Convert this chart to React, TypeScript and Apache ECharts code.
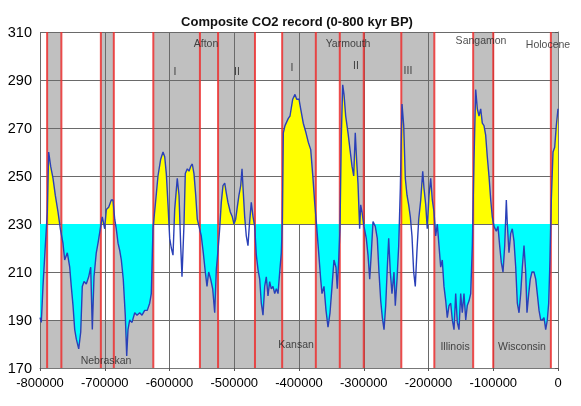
import React, { useEffect, useRef } from "react";
import * as echarts from "echarts";

// ---- data (ages in kyr BP, negative = before present; CO2 in ppmv) ----
const ageKyr = [
  -800.0, -798.0, -795.4, -791.8, -788.7, -786.6, -783.5, -779.9, -776.4, -772.2,
  -768.6, -764.5, -761.9, -757.8, -754.1, -751.7, -749.0, -746.4, -743.9, -740.2,
  -737.1, -734.7, -732.0, -728.5, -724.8, -721.7, -719.2, -716.6, -713.1, -710.4,
  -706.9, -703.8, -700.1, -697.6, -693.9, -689.9, -687.3, -684.6, -682.2, -679.5,
  -676.9, -674.4, -671.4, -668.3, -666.1, -664.1, -661.5, -657.9, -653.7, -650.2,
  -646.0, -642.5, -638.3, -634.3, -630.6, -628.1, -625.5, -621.9, -617.8, -613.6,
  -610.0, -607.4, -604.9, -602.3, -599.7, -597.2, -594.6, -592.0, -588.0, -585.3,
  -582.7, -580.7, -577.6, -575.6, -572.5, -569.9, -567.3, -564.8, -562.2, -559.5,
  -557.1, -554.4, -550.9, -547.8, -544.7, -542.1, -539.5, -536.4, -533.3, -530.2,
  -527.7, -525.1, -522.5, -520.0, -517.4, -514.7, -512.3, -509.7, -506.1, -503.0,
  -500.4, -497.8, -495.3, -492.7, -490.0, -488.0, -486.0, -483.9, -481.4, -478.8,
  -476.8, -473.7, -471.0, -468.4, -465.9, -463.3, -460.7, -458.2, -455.6, -453.0,
  -450.5, -447.9, -445.3, -442.8, -440.2, -437.5, -435.0, -432.4, -429.8, -427.3,
  -425.8, -424.2, -421.6, -416.5, -413.9, -409.7, -406.2, -403.6, -400.0, -397.4,
  -393.4, -389.2, -385.6, -381.9, -378.4, -375.8, -373.3, -369.6, -366.5, -364.5,
  -361.4, -358.3, -355.2, -352.1, -349.0, -346.0, -342.9, -340.9, -338.7, -336.7,
  -334.7, -332.5, -330.5, -327.9, -324.3, -321.2, -318.1, -315.5, -313.1, -310.9,
  -308.9, -306.3, -304.7, -302.7, -299.6, -296.1, -293.4, -290.8, -288.3, -285.7,
  -282.2, -279.1, -276.5, -273.8, -271.3, -268.7, -266.1, -263.6, -261.5, -259.0,
  -256.4, -253.3, -251.3, -248.6, -246.0, -243.5, -240.9, -238.3, -235.8, -233.2,
  -230.6, -228.1, -225.5, -222.9, -220.4, -217.8, -215.1, -212.0, -208.9, -207.0,
  -204.3, -201.9, -199.2, -196.6, -194.1, -191.5, -188.9, -186.4, -183.8, -181.2,
  -178.7, -176.1, -173.4, -171.0, -168.3, -165.7, -163.2, -160.6, -158.0, -155.5,
  -152.9, -150.3, -147.8, -145.2, -142.5, -140.1, -137.4, -134.8, -132.3, -129.7,
  -127.1, -124.6, -122.0, -119.4, -116.9, -114.3, -111.7, -109.2, -106.6, -103.9,
  -101.5, -98.8, -95.3, -92.7, -90.1, -87.6, -84.9, -82.3, -79.8, -78.3,
  -75.7, -73.1, -70.6, -68.0, -65.3, -62.8, -60.2, -57.6, -55.1, -52.5,
  -49.9, -47.9, -45.2, -42.8, -40.2, -37.1, -34.4, -32.0, -29.3, -26.7,
  -24.2, -21.6, -19.0, -16.5, -14.4, -12.4, -10.3, -7.7, -5.1, -2.6,
  0.0,
];

const co2 = [
  191, 189, 204, 221, 235, 260, 254, 249, 242, 235,
  228, 222, 215, 218, 212, 204, 196, 186, 182, 178,
  185, 204, 206, 205, 208, 212, 186, 208, 218, 222,
  228, 233, 228, 236, 237, 240, 240, 232, 228, 222,
  219, 215, 207, 192, 175, 186, 190, 189, 193, 192,
  193, 192, 194, 194, 197, 201, 228, 238, 250, 257,
  260, 258, 251, 238, 224, 220, 217, 236, 249, 242,
  221, 208, 230, 251, 253, 252, 254, 255, 251, 242,
  232, 229, 225, 218, 210, 204, 210, 207, 203, 193,
  211, 219, 228, 239, 246, 247, 243, 239, 235, 233,
  230, 232, 237, 242, 246, 253, 243, 233, 225, 221,
  229, 239, 233, 229, 217, 211, 207, 197, 192, 204,
  208, 200, 206, 203, 204, 201, 203, 201, 210, 218,
  230, 268, 271, 274, 275, 282, 284, 282, 282, 278,
  272, 268, 264, 261, 249, 239, 231, 218, 207, 201,
  204, 194, 187, 193, 204, 215, 212, 203, 215, 228,
  266, 288, 284, 275, 268, 261, 254, 250, 268, 256,
  247, 228, 238, 235, 229, 224, 217, 207, 218, 231,
  229, 224, 210, 198, 191, 186, 196, 212, 224, 210,
  201, 210, 196, 207, 221, 245, 280, 271, 249, 242,
  238, 233, 225, 210, 204, 219, 232, 240, 252, 245,
  238, 228, 242, 249, 240, 235, 225, 230, 221, 212,
  215, 204, 198, 191, 196, 197, 190, 186, 201, 189,
  186, 201, 193, 201, 190, 196, 198, 201, 221, 257,
  286, 278, 275, 278, 272, 271, 267, 258, 250, 240,
  233, 229, 227, 229, 221, 214, 210, 221, 240, 230,
  218, 226, 228, 223, 212, 197, 193, 201, 212, 221,
  210, 193, 201, 207, 210, 210, 207, 201, 194, 190,
  190, 191, 186, 190, 197, 215, 240, 260, 262, 271,
  278,
];

// stage boundaries (red lines), kyr
const boundaryKyr = [-789, -767, -706, -686, -625, -553, -525, -468, -426, -374, -337, -300, -242, -191, -131, -100, -11];

// shaded bands: [startKyr, endKyr]
const nameBandsTop = [[-789, -767], [-706, -686], [-625, -468], [-426, -191], [-131, -100], [-11, 0]];
const interglacialBands = [[-789, -767], [-706, -686], [-625, -553], [-525, -468], [-426, -374], [-337, -300], [-242, -191], [-131, -100], [-11, 0]];
const glacialBands = [[-800, -789], [-767, -706], [-686, -625], [-553, -525], [-468, -426], [-374, -337], [-300, -242], [-191, -131], [-100, -11]];
const nameBandsBottom = [[-800, -625], [-553, -242], [-191, -131], [-100, -11]];

// band vertical extents (ppmv)
const topRange = [290, 310];
const interRange = [230, 290];
const glacialRange = [190, 230];
const bottomRange = [170, 190];

const baseline = 230;

// annotation texts and anchors
const labelNames = ["Afton", "I", "II", "Yarmouth", "I", "II", "III", "Sangamon", "Holocene", "Nebraskan", "Kansan", "Illinois", "Wisconsin"];
const labelAgeKyr = [-543.6, -591.5, -495.8, -324.3, -410.8, -312.0, -231.7, -118.9, -15.4, -698.0, -404.6, -159.0, -55.6];
const labelCo2 = [305.4, 293.8, 293.8, 305.4, 295.4, 296.3, 294.2, 306.7, 305.0, 173.3, 180.0, 179.2, 179.2];

const xMin = -800000;
const xMax = 0;
const yMin = 170;
const yMax = 310;

const FONT = "'Liberation Sans', Arial, sans-serif";

// linear interpolation of the record at x (used only to clip fills at band edges)
function valueAt(xs: number[], ys: number[], x: number) {
  if (x <= xs[0]) return ys[0];
  for (let i = 1; i < xs.length; i++) {
    if (x <= xs[i]) {
      const t = (x - xs[i - 1]) / (xs[i] - xs[i - 1]);
      return ys[i - 1] + t * (ys[i] - ys[i - 1]);
    }
  }
  return ys[ys.length - 1];
}

// build a fill polyline, clipped to the given bands, on one side of the baseline
function bandFill(xs: number[], ys: number[], bands: number[][], base: number, above: boolean) {
  const out: any[] = [];
  bands.forEach(([ka, kb]) => {
    const a = ka * 1000;
    const b = kb * 1000;
    const px: number[] = [a];
    const py: number[] = [valueAt(xs, ys, a)];
    for (let i = 0; i < xs.length; i++) {
      if (xs[i] > a && xs[i] < b) {
        px.push(xs[i]);
        py.push(ys[i]);
      }
    }
    px.push(b);
    py.push(valueAt(xs, ys, b));
    for (let i = 0; i < px.length; i++) {
      if (i > 0) {
        const y0 = py[i - 1];
        const y1 = py[i];
        if ((y0 - base) * (y1 - base) < 0) {
          const t = (base - y0) / (y1 - y0);
          out.push([px[i - 1] + t * (px[i] - px[i - 1]), base]);
        }
      }
      out.push([px[i], above ? Math.max(py[i], base) : Math.min(py[i], base)]);
    }
    out.push([b, "-"]);
  });
  return out;
}

export default function App() {
  const ref = useRef<HTMLDivElement>(null);

  useEffect(() => {
    if (!ref.current) return;
    const chart = echarts.init(ref.current, undefined, { renderer: "svg" });

    const years = ageKyr.map((k) => k * 1000);
    const line = years.map((x, i) => [x, co2[i]]);
    const upper = bandFill(years, co2, interglacialBands, baseline, true);
    const lower = bandFill(years, co2, glacialBands, baseline, false);

    const bandRows: number[][] = [];
    const addBands = (list: number[][], range: number[]) =>
      list.forEach(([a, b]) => bandRows.push([a * 1000, b * 1000, range[0], range[1]]));
    addBands(nameBandsTop, topRange);
    addBands(interglacialBands, interRange);
    addBands(glacialBands, glacialRange);
    addBands(nameBandsBottom, bottomRange);

    const labelData = labelNames.map((n, i) => ({ name: n, value: [labelAgeKyr[i] * 1000, labelCo2[i]] }));

    chart.setOption({
      animation: false,
      title: {
        text: "Composite CO2 record (0-800 kyr BP)",
        left: 292,
        textAlign: "center",
        top: 10,
        textStyle: { fontFamily: FONT, fontSize: 13, fontWeight: "bold", color: "#111" },
      },
      grid: { left: 40, right: 23, top: 32, bottom: 38, containLabel: false },
      xAxis: {
        type: "value",
        min: xMin,
        max: xMax,
        interval: 100000,
        z: 2,
        axisLine: { show: true, lineStyle: { color: "#777", width: 1 } },
        axisTick: { show: true, length: 3, lineStyle: { color: "#555" } },
        splitLine: { show: true, lineStyle: { color: "#6a6a6a", width: 1 } },
        axisLabel: {
          margin: 8,
          fontFamily: FONT,
          fontSize: 13,
          color: "#000",
          formatter: (v: number) => String(v),
        },
      },
      yAxis: {
        type: "value",
        min: yMin,
        max: yMax,
        interval: 20,
        z: 2,
        axisLine: { show: true, lineStyle: { color: "#777", width: 1 } },
        axisTick: { show: true, length: 3, lineStyle: { color: "#555" } },
        splitLine: { show: true, lineStyle: { color: "#6a6a6a", width: 1 } },
        axisLabel: { margin: 8, fontFamily: FONT, fontSize: 14.5, color: "#000" },
      },
      series: [
        {
          type: "custom",
          name: "bands",
          z: 1,
          silent: true,
          data: bandRows,
          encode: { x: [0, 1], y: [2, 3] },
          renderItem: (params: any, api: any) => {
            const p0 = api.coord([api.value(0), api.value(3)]);
            const p1 = api.coord([api.value(1), api.value(2)]);
            return {
              type: "rect",
              shape: { x: p0[0], y: p0[1], width: p1[0] - p0[0], height: p1[1] - p0[1] },
              style: { fill: "#c0c0c0" },
            };
          },
        },
        {
          type: "line",
          name: "above",
          z: 3,
          silent: true,
          data: upper,
          connectNulls: false,
          symbol: "none",
          lineStyle: { width: 0, opacity: 0 },
          areaStyle: { color: "#ffff00", opacity: 1, origin: baseline },
        },
        {
          type: "line",
          name: "below",
          z: 3,
          silent: true,
          data: lower,
          connectNulls: false,
          symbol: "none",
          lineStyle: { width: 0, opacity: 0 },
          areaStyle: { color: "#00ffff", opacity: 1, origin: baseline },
        },
        {
          type: "custom",
          name: "boundaries",
          z: 4,
          silent: true,
          data: boundaryKyr.map((k) => [k * 1000, yMin]),
          renderItem: (params: any, api: any) => {
            const a = api.coord([api.value(0), yMax]);
            const b = api.coord([api.value(0), yMin]);
            return {
              type: "line",
              shape: { x1: a[0], y1: a[1], x2: b[0], y2: b[1] },
              style: { stroke: "#ec2f2f", lineWidth: 2, opacity: 0.85 },
            };
          },
        },
        {
          type: "line",
          name: "CO2",
          z: 5,
          silent: true,
          data: line,
          symbol: "none",
          lineStyle: { color: "#2a40b8", width: 1.4 },
        },
        {
          type: "scatter",
          name: "labels",
          z: 6,
          silent: true,
          symbolSize: 0,
          data: labelData,
          label: {
            show: true,
            position: "inside",
            formatter: "{b}",
            fontFamily: FONT,
            fontSize: 10.5,
            color: "#222",
          },
        },
      ],
    });

    return () => chart.dispose();
  }, []);

  return <div ref={ref} style={{ position: "fixed", left: 0, top: 0, width: 581, height: 406 }} />;
}
